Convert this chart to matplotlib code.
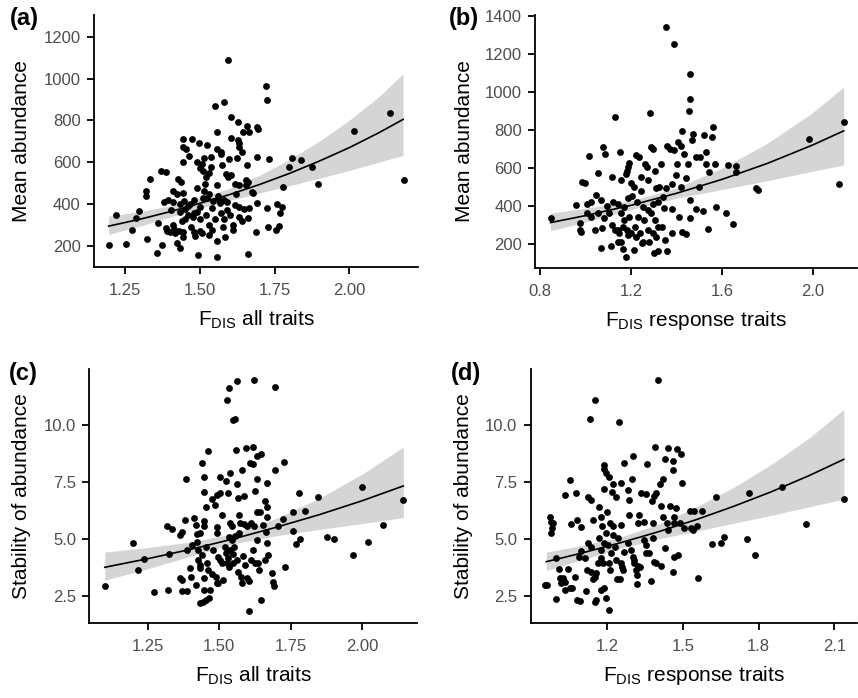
import matplotlib
matplotlib.use("Agg")
import matplotlib.pyplot as plt
import numpy as np

plt.rcParams['font.family'] = ['Liberation Sans', 'DejaVu Sans']
plt.rcParams['mathtext.fontset'] = 'custom'
plt.rcParams['mathtext.rm'] = 'Liberation Sans'
plt.rcParams['mathtext.it'] = 'Liberation Sans:italic'

# ---- panel (a): mean abundance vs FDIS all traits ----
a_x = [1.195, 1.219, 1.254, 1.272, 1.285, 1.298, 1.319, 1.319, 1.324, 1.332,
       1.356, 1.360, 1.369, 1.372, 1.386, 1.380, 1.395, 1.386, 1.401, 1.403,
       1.409, 1.411, 1.412, 1.417, 1.423, 1.423, 1.432, 1.432, 1.427, 1.434,
       1.437, 1.442, 1.444, 1.443, 1.442, 1.442, 1.442, 1.446, 1.451, 1.453,
       1.462, 1.463, 1.468, 1.474, 1.478, 1.481, 1.484, 1.490, 1.490, 1.490,
       1.494, 1.496, 1.499, 1.501, 1.506, 1.506, 1.512, 1.513, 1.514, 1.518,
       1.523, 1.525, 1.529, 1.530, 1.532, 1.536, 1.539, 1.540, 1.545, 1.552,
       1.556, 1.556, 1.558, 1.559, 1.559, 1.562, 1.568, 1.570, 1.575, 1.579,
       1.581, 1.582, 1.584, 1.589, 1.593, 1.593, 1.592, 1.599, 1.604, 1.604,
       1.612, 1.617, 1.619, 1.624, 1.627, 1.627, 1.630, 1.630, 1.631, 1.631,
       1.642, 1.643, 1.649, 1.653, 1.657, 1.659, 1.661, 1.661, 1.666, 1.679,
       1.688, 1.691, 1.696, 1.691, 1.691, 1.720, 1.724, 1.726, 1.727, 1.733,
       1.757, 1.756, 1.764, 1.768, 1.776, 1.777, 1.798, 1.809, 1.840, 1.874,
       1.897, 2.017, 2.136, 2.183,
       1.390, 1.410, 1.450, 1.470, 1.480, 1.520, 1.530, 1.550, 1.570, 1.580,
       1.600, 1.610, 1.630, 1.640, 1.660, 1.500, 1.460, 1.540, 1.560, 1.590,
       1.620, 1.655, 1.430, 1.500, 1.510, 1.605, 1.570, 1.520, 1.480, 1.440,
       1.665, 1.675]
a_y = [203, 348, 210, 276, 332, 369, 463, 439, 232, 520,
       165, 308, 560, 205, 552, 409, 420, 288, 268, 372,
       461, 409, 280, 260, 447, 213, 189, 401, 520, 361,
       504, 600, 709, 674, 455, 268, 245, 415, 375, 662,
       348, 631, 399, 709, 337, 268, 248, 600, 475, 361,
       157, 693, 571, 385, 592, 260, 560, 620, 464, 495,
       431, 681, 253, 550, 448, 623, 579, 276, 415, 869,
       490, 149, 743, 663, 225, 423, 407, 647, 588, 292,
       420, 889, 241, 542, 1091, 531, 372, 617, 816, 716,
       276, 495, 394, 620, 791, 706, 690, 492, 385, 674,
       651, 743, 375, 514, 775, 588, 162, 507, 743, 455,
       268, 768, 757, 623, 404, 964, 900, 381, 292, 614,
       399, 276, 297, 359, 385, 482, 579, 622, 611, 579,
       498, 749, 838, 514,
       270, 300, 330, 290, 360, 350, 300, 330, 360, 330,
       350, 300, 340, 320, 335, 270, 390, 380, 440, 410,
       450, 490, 270, 330, 430, 540, 640, 530, 420, 320,
       380, 460]
a_fit_x = [1.195, 1.3, 1.4, 1.5, 1.6, 1.7, 1.8, 1.9, 2.0, 2.1, 2.18]
a_fit = [295, 328, 364, 404, 446, 494, 547, 606, 670, 742, 805]
a_lo = [256, 295, 338, 380, 418, 453, 488, 524, 561, 601, 633]
a_hi = [343, 364, 392, 429, 476, 538, 614, 701, 801, 915, 1023]

# ---- panel (b): mean abundance vs FDIS response traits ----
b_x = [1.355, 1.390, 1.460, 1.460, 1.457, 1.283, 1.131, 1.560, 1.425, 1.473,
       1.469, 1.522, 1.557, 1.077, 1.087, 1.153, 1.287, 1.296, 1.358, 1.372,
       1.390, 1.407, 1.418, 1.014, 0.999, 0.983, 1.221, 1.236, 1.260, 1.268,
       1.303, 1.331, 1.402, 1.435, 1.450, 1.486, 1.504, 1.529, 1.529, 1.545,
       1.568, 1.628, 1.660, 1.660, 1.189, 1.185, 1.182, 1.179, 1.053, 1.115,
       1.156, 1.201, 1.214, 1.243, 1.273, 1.243, 1.309, 1.324, 1.355, 1.378,
       1.397, 1.419, 1.441, 1.497, 1.751, 1.758, 1.982, 2.136, 2.114,
       0.958, 1.006, 1.024, 1.046, 1.068, 1.093, 1.119, 1.141, 1.170, 1.185,
       1.203, 1.226, 1.251, 1.273, 1.295, 1.317, 1.339, 1.346, 1.382, 1.459,
       1.485, 1.518, 1.573, 1.617,
       0.845, 0.973, 0.977, 0.980, 1.006, 1.024, 1.039, 1.056, 1.072, 1.080,
       1.104, 1.115, 1.131, 1.141, 1.145, 1.156, 1.163, 1.170, 1.180, 1.192,
       1.200, 1.217, 1.221, 1.229, 1.240, 1.251, 1.258, 1.273, 1.277, 1.287,
       1.295, 1.305, 1.309, 1.320, 1.336, 1.347, 1.382, 1.412, 1.426, 1.441,
       1.460, 1.539, 1.650,
       1.068, 1.113, 1.141, 1.156, 1.163, 1.178, 1.186, 1.299, 1.320, 1.356,
       1.211, 1.246]
b_y = [1344, 1251, 1093, 964, 901, 892, 871, 817, 796, 778,
       748, 775, 762, 713, 677, 684, 713, 701, 719, 701,
       696, 740, 719, 664, 521, 529, 668, 657, 620, 608,
       587, 622, 622, 675, 622, 661, 659, 687, 622, 580,
       622, 615, 613, 582, 629, 608, 587, 570, 573, 556,
       538, 521, 503, 556, 538, 482, 494, 503, 494, 517,
       564, 503, 547, 503, 498, 486, 752, 841, 515,
       407, 412, 424, 459, 433, 401, 424, 412, 398, 442,
       454, 424, 398, 380, 410, 424, 451, 389, 384, 433,
       384, 375, 398, 363,
       337, 310, 275, 263, 363, 345, 275, 363, 284, 337,
       363, 302, 275, 275, 258, 363, 293, 328, 275, 345,
       258, 293, 240, 345, 258, 214, 328, 275, 214, 363,
       258, 328, 240, 293, 293, 223, 258, 345, 267, 254,
       337, 281, 305,
       182, 191, 214, 214, 174, 135, 249, 153, 165, 165,
       170, 209]
b_fit_x = [0.845, 1.0, 1.2, 1.4, 1.6, 1.8, 2.0, 2.136]
b_fit = [314, 351, 405, 468, 541, 625, 722, 796]
b_lo = [271, 317, 382, 442, 488, 534, 584, 617]
b_hi = [364, 389, 429, 496, 600, 731, 893, 1026]

# ---- panel (c): stability vs FDIS all traits ----
c_x = [1.561, 1.621, 1.535, 1.694, 1.527, 1.549, 1.554, 1.462, 1.560, 1.594,
       1.619, 1.631, 1.645, 1.608, 1.619, 1.727, 1.695, 1.578, 1.441, 1.447,
       1.384, 1.538, 1.503, 1.524, 1.563, 1.633, 1.666, 1.625, 1.445, 1.503,
       1.532, 1.491, 1.474, 1.485, 1.453, 1.566, 1.588, 1.659, 1.631, 1.643,
       1.666, 1.509, 1.568, 1.666, 1.724,
       1.380, 1.410, 1.417, 1.445, 1.445, 1.369, 1.363, 1.316, 1.334, 1.421,
       1.433, 1.491, 1.538, 1.544, 1.573, 1.585, 1.598, 1.610, 1.621, 1.654,
       1.663, 1.706, 1.759, 1.800, 1.779, 1.846, 1.759, 1.782, 1.768, 1.878,
       1.901, 1.998, 2.143, 2.071, 2.021, 1.968,
       1.198, 1.101, 1.217, 1.238, 1.326, 1.272, 1.322, 1.363, 1.369, 1.369,
       1.386, 1.398, 1.401, 1.418, 1.404, 1.421, 1.424, 1.427, 1.433, 1.434,
       1.439, 1.445, 1.447, 1.454, 1.456, 1.462, 1.468, 1.474, 1.479, 1.489,
       1.491, 1.497, 1.503, 1.509, 1.514, 1.520, 1.524, 1.526, 1.532, 1.535,
       1.538, 1.544, 1.547, 1.549, 1.553, 1.556, 1.561, 1.567, 1.575, 1.578,
       1.584, 1.590, 1.596, 1.605, 1.610, 1.619, 1.625, 1.631, 1.634, 1.640,
       1.645, 1.660, 1.666, 1.672, 1.683, 1.689, 1.692, 1.730, 1.603, 1.433,
       1.442, 1.454, 1.465, 1.491, 1.570, 1.535, 1.386, 1.497]
c_y = [11.93, 11.96, 11.59, 11.65, 11.08, 10.18, 10.23, 8.85, 8.89, 8.96,
       9.04, 8.63, 8.72, 8.31, 8.26, 8.38, 8.02, 8.02, 8.31, 7.72,
       7.61, 7.87, 7.72, 7.51, 7.39, 7.64, 7.46, 7.10, 7.04, 6.99,
       7.02, 6.92, 6.75, 6.48, 6.41, 6.80, 6.89, 6.66, 6.19, 6.19,
       6.38, 6.05, 6.05, 5.97, 5.86,
       5.83, 5.90, 5.61, 5.80, 5.54, 5.32, 5.17, 5.54, 5.43, 5.21,
       5.27, 5.51, 5.71, 5.54, 5.68, 5.64, 5.54, 5.68, 5.54, 5.61,
       5.32, 5.58, 6.19, 6.22, 6.99, 6.82, 5.36, 5.00, 4.76, 5.07,
       4.98, 7.29, 6.70, 5.61, 4.85, 4.28,
       4.81, 2.95, 3.64, 4.11, 4.32, 2.69, 2.75, 3.27, 3.20, 2.72,
       2.72, 3.71, 3.35, 2.98, 4.73, 4.88, 4.51, 4.08, 3.86, 3.71,
       4.29, 3.27, 2.76, 4.66, 3.93, 3.64, 2.76, 3.46, 4.51, 3.35,
       3.05, 4.22, 4.08, 3.93, 3.20, 4.66, 4.37, 3.93, 4.15, 3.78,
       4.51, 4.95, 3.93, 4.34, 4.66, 5.14, 4.08, 3.57, 3.35, 3.05,
       4.25, 3.86, 3.27, 3.17, 4.08, 4.51, 3.93, 4.95, 3.93, 3.64,
       2.32, 4.08, 4.81, 4.29, 3.52, 3.13, 2.94, 3.75, 1.86, 2.18,
       2.25, 2.32, 2.40, 5.24, 5.24, 5.10, 4.51, 3.05]
c_fit_x = [1.10, 1.25, 1.40, 1.55, 1.70, 1.85, 2.00, 2.143]
c_fit = [3.755, 4.13, 4.54, 5.00, 5.51, 6.06, 6.67, 7.315]
c_lo = [3.19, 3.69, 4.24, 4.78, 5.14, 5.41, 5.67, 5.93]
c_hi = [4.42, 4.62, 4.86, 5.23, 5.90, 6.78, 7.84, 9.02]

# ---- panel (d): stability vs FDIS response traits ----
d_x = [1.400, 1.153, 1.130, 1.246, 1.391, 1.439, 1.476, 1.492, 1.301, 1.429,
       1.461, 1.268, 1.358, 1.189, 1.459, 1.187, 1.196, 1.207, 1.496, 1.255,
       1.224, 1.297, 1.420, 1.409, 1.051, 1.189, 1.284, 1.218, 1.078, 1.034,
       1.334, 1.354, 1.393, 1.384, 1.376, 1.233, 1.288, 1.124, 1.137, 1.168,
       1.449, 1.472, 1.413, 1.630, 1.762, 1.891, 2.137, 1.986, 1.528, 1.545,
       1.574, 1.200, 1.143, 0.975, 0.979, 0.987, 0.982, 0.976, 1.058, 1.079,
       1.095, 1.176, 1.179, 1.213, 1.222, 1.255, 1.288, 1.321, 1.325, 1.347,
       1.383, 1.420, 1.437, 1.463, 1.466, 1.487, 1.505, 1.532, 1.538, 1.555,
       1.439,
       0.999, 1.009, 1.012, 1.018, 0.999, 0.963, 0.953, 1.025, 1.034, 1.045,
       1.032, 1.051, 1.061, 1.071, 1.082, 1.091, 1.087, 1.095, 1.111, 1.121,
       1.124, 1.117, 1.137, 1.143, 1.150, 1.157, 1.157, 1.166, 1.174, 1.174,
       1.176, 1.186, 1.183, 1.189, 1.196, 1.196, 1.203, 1.209, 1.209, 1.213,
       1.216, 1.222, 1.229, 1.236, 1.239, 1.242, 1.249, 1.253, 1.259, 1.262,
       1.268, 1.282, 1.295, 1.301, 1.305, 1.308, 1.314, 1.317, 1.318, 1.321,
       1.330, 1.347, 1.354, 1.354, 1.367, 1.374, 1.380, 1.387, 1.393, 1.413,
       1.429, 1.459, 1.466, 1.482, 1.561, 1.613, 1.650, 1.661, 1.753, 1.784,
       1.137, 1.150, 1.163]
d_y = [11.96, 11.08, 10.23, 10.13, 9.04, 8.96, 8.92, 8.70, 8.63, 8.50,
       8.41, 8.31, 8.26, 8.23, 8.02, 8.05, 7.87, 7.72, 7.46, 7.46,
       7.40, 7.62, 7.61, 7.40, 7.58, 7.18, 7.14, 7.07, 7.02, 6.92,
       6.99, 6.97, 7.02, 6.89, 6.67, 6.85, 6.70, 6.82, 6.70, 6.38,
       6.45, 6.37, 6.45, 6.82, 7.02, 7.29, 6.73, 5.64, 6.22, 6.22,
       6.22, 6.19, 5.83, 5.97, 5.75, 5.68, 5.46, 5.27, 5.64, 5.83,
       5.51, 5.97, 5.54, 5.68, 5.54, 5.61, 6.05, 5.68, 6.05, 5.75,
       5.71, 5.97, 5.68, 5.94, 5.71, 5.68, 5.46, 5.46, 5.39, 5.56,
       5.39,
       4.15, 3.67, 3.27, 3.05, 2.35, 2.98, 2.98, 3.27, 3.13, 3.67,
       2.76, 2.84, 2.87, 3.35, 2.32, 2.30, 4.22, 4.48, 4.18, 3.64,
       4.81, 2.72, 4.66, 3.23, 2.25, 2.32, 3.49, 5.02, 4.51, 4.15,
       2.76, 2.84, 3.93, 4.81, 5.24, 2.40, 4.73, 1.89, 3.93, 3.64,
       4.37, 5.17, 4.66, 4.08, 3.23, 5.02, 3.23, 3.93, 3.78, 3.64,
       4.44, 4.81, 4.51, 4.22, 3.93, 4.08, 3.64, 3.42, 3.03, 3.81,
       3.78, 4.95, 4.73, 4.37, 4.40, 3.17, 5.02, 4.00, 3.93, 3.81,
       4.59, 3.57, 4.22, 4.29, 3.27, 4.78, 4.81, 5.07, 4.98, 4.29,
       3.57, 3.35, 3.93]
d_fit_x = [0.959, 1.1, 1.25, 1.4, 1.55, 1.7, 1.85, 2.0, 2.137]
d_fit = [4.00, 4.38, 4.82, 5.30, 5.83, 6.42, 7.06, 7.77, 8.48]
d_lo = [3.62, 4.08, 4.58, 4.99, 5.33, 5.68, 6.03, 6.40, 6.74]
d_hi = [4.42, 4.71, 5.07, 5.63, 6.38, 7.25, 8.26, 9.42, 10.66]

xlab_all = r'F$_{\mathrm{DIS}}$ all traits'
xlab_resp = r'F$_{\mathrm{DIS}}$ response traits'

panels = [
    dict(x=a_x, y=a_y, fx=a_fit_x, f=a_fit, lo=a_lo, hi=a_hi, tag='(a)',
         xlab=xlab_all, ylab='Mean abundance',
         xt=[1.25, 1.50, 1.75, 2.00], xtl=['1.25', '1.50', '1.75', '2.00'],
         yt=[200, 400, 600, 800, 1000, 1200],
         xlim=(1.146, 2.23), ylim=(101, 1304),
         rect=[0.1096, 0.6179, 0.3776, 0.3606], ylx=-0.194, tagpos=(24, 19)),
    dict(x=b_x, y=b_y, fx=b_fit_x, f=b_fit, lo=b_lo, hi=b_hi, tag='(b)',
         xlab=xlab_resp, ylab='Mean abundance',
         xt=[0.8, 1.2, 1.6, 2.0], xtl=['0.8', '1.2', '1.6', '2.0'],
         yt=[200, 400, 600, 800, 1000, 1200, 1400],
         xlim=(0.778, 2.195), ylim=(77, 1405),
         rect=[0.6239, 0.6165, 0.375, 0.362], ylx=-0.19, tagpos=(464, 18)),
    dict(x=c_x, y=c_y, fx=c_fit_x, f=c_fit, lo=c_lo, hi=c_hi, tag='(c)',
         xlab=xlab_all, ylab='Stability of abundance',
         xt=[1.25, 1.50, 1.75, 2.00], xtl=['1.25', '1.50', '1.75', '2.00'],
         yt=[2.5, 5.0, 7.5, 10.0],
         xlim=(1.046, 2.192), ylim=(1.33, 12.42),
         rect=[0.1041, 0.1079, 0.3823, 0.363], ylx=-0.178, tagpos=(23, 373)),
    dict(x=d_x, y=d_y, fx=d_fit_x, f=d_fit, lo=d_lo, hi=d_hi, tag='(d)',
         xlab=xlab_resp, ylab='Stability of abundance',
         xt=[1.2, 1.5, 1.8, 2.1], xtl=['1.2', '1.5', '1.8', '2.1'],
         yt=[2.5, 5.0, 7.5, 10.0],
         xlim=(0.897, 2.189), ylim=(1.33, 12.42),
         rect=[0.6185, 0.1079, 0.3803, 0.363], ylx=-0.177, tagpos=(466, 373)),
]

fig = plt.figure(figsize=(8.58, 6.98), dpi=100)

for p in panels:
    ax = fig.add_axes(p['rect'])
    ax.fill_between(p['fx'], p['lo'], p['hi'], color='#d5d5d5', lw=0, zorder=1)
    ax.scatter(p['x'], p['y'], s=24, color='black', lw=0, zorder=2)
    ax.plot(p['fx'], p['f'], color='black', lw=1.2, zorder=3)
    ax.set_xlim(*p['xlim'])
    ax.set_ylim(*p['ylim'])
    ax.set_xticks(p['xt'])
    ax.set_xticklabels(p['xtl'])
    ax.set_yticks(p['yt'])
    if p['ylim'][1] < 20:
        ax.set_yticklabels(['%.1f' % v for v in p['yt']])
    for s in ['top', 'right']:
        ax.spines[s].set_visible(False)
    for s in ['left', 'bottom']:
        ax.spines[s].set_linewidth(1.3)
    ax.tick_params(axis='both', direction='out', length=5, width=1.3,
                   labelsize=12, labelcolor='#4d4d4d', color='black')
    ax.tick_params(axis='x', pad=7)
    ax.tick_params(axis='y', pad=4.5)
    ax.set_xlabel(p['xlab'], fontsize=15)
    ax.set_ylabel(p['ylab'], fontsize=15)
    ax.xaxis.set_label_coords(0.5, -0.165)
    ax.yaxis.set_label_coords(p['ylx'], 0.5)
    fig.text(p['tagpos'][0] / 858, 1 - p['tagpos'][1] / 698, p['tag'],
             fontsize=17, fontweight='bold', ha='center', va='center')

fig.savefig('out.png', dpi=100)
